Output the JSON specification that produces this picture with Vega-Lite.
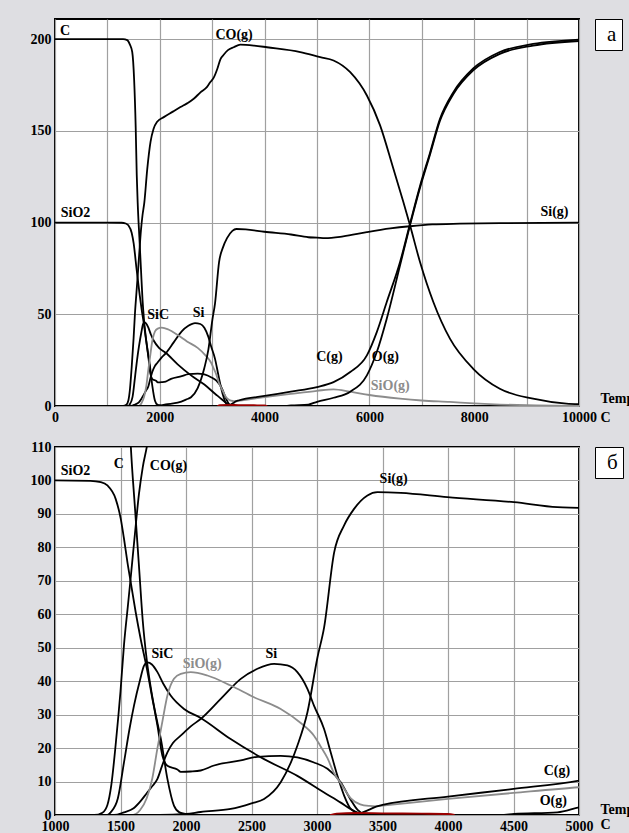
{
"$schema": "https://vega.github.io/schema/vega-lite/v6.json",
"background": "#dedee2",
"padding": {"left": 29, "top": 17, "right": 0, "bottom": 0},
"spacing": 14,
"config": {
 "view": {"fill": "white", "stroke": "black", "strokeWidth": 2},
 "axis": {"labelFont": "Liberation Serif", "labelFontSize": 14, "labelFontWeight": "bold", "labelColor": "black", "ticks": false, "labelPadding": 4, "domain": false, "gridColor": "#a0a0a0", "gridWidth": 1.2, "gridOpacity": 1, "labelFlush": false, "labelOverlap": false, "titleFont": "Liberation Serif", "titleFontSize": 14, "titleFontWeight": "bold", "titleColor": "black"},
 "legend": {"columnPadding": 0, "rowPadding": 0},
 "text": {"font": "Liberation Serif", "fontWeight": "bold", "fontSize": 14, "align": "left", "baseline": "middle"}
},
"resolve": {"scale": {"x": "independent", "y": "independent", "shape": "independent"}, "legend": {"shape": "independent"}},
"datasets": {
 "labels": [
  {"p":"a","s":"C","T":95,"v":204.7},
  {"p":"a","s":"CO(g)","T":3061,"v":202.5},
  {"p":"a","s":"SiO2","T":109,"v":105.4},
  {"p":"a","s":"SiC","T":1760,"v":49.6},
  {"p":"a","s":"Si","T":2629,"v":50.7},
  {"p":"a","s":"Si(g)","T":9265,"v":105.7},
  {"p":"a","s":"C(g)","T":4985,"v":26.7},
  {"p":"a","s":"O(g)","T":6046,"v":26.7},
  {"p":"a","s":"SiO(g)","T":6027,"v":10.9},
  {"p":"b","s":"SiO2","T":1044,"v":102.9},
  {"p":"b","s":"C","T":1448,"v":104.9},
  {"p":"b","s":"CO(g)","T":1724,"v":104.4},
  {"p":"b","s":"SiC","T":1737,"v":48.1},
  {"p":"b","s":"SiO(g)","T":1975,"v":45.2},
  {"p":"b","s":"Si","T":2607,"v":48.1},
  {"p":"b","s":"Si(g)","T":3478,"v":100.4},
  {"p":"b","s":"C(g)","T":4730,"v":13.2},
  {"p":"b","s":"O(g)","T":4700,"v":4.2}
 ],
 "curves": [
  {"s":"C","T":0,"v":200},{"s":"C","T":1000,"v":200},{"s":"C","T":1300,"v":200},{"s":"C","T":1378,"v":199.5},{"s":"C","T":1430,"v":197},{"s":"C","T":1474,"v":193},{"s":"C","T":1510,"v":178},{"s":"C","T":1540,"v":152},{"s":"C","T":1560,"v":126},{"s":"C","T":1579,"v":110},{"s":"C","T":1610,"v":92},{"s":"C","T":1640,"v":75},{"s":"C","T":1670,"v":58},{"s":"C","T":1700,"v":46.5},{"s":"C","T":1740,"v":36},{"s":"C","T":1782,"v":27.5},{"s":"C","T":1807,"v":23},{"s":"C","T":1858,"v":10.8},{"s":"C","T":1908,"v":2.8},{"s":"C","T":1950,"v":0.8},{"s":"C","T":2000,"v":0.3},{"s":"C","T":2100,"v":0},{"s":"C","T":10000,"v":0},
  {"s":"CO(g)","T":0,"v":0},{"s":"CO(g)","T":1300,"v":0},{"s":"CO(g)","T":1362,"v":0.7},{"s":"CO(g)","T":1400,"v":3},{"s":"CO(g)","T":1430,"v":9},{"s":"CO(g)","T":1463,"v":21},{"s":"CO(g)","T":1500,"v":37},{"s":"CO(g)","T":1527,"v":51},{"s":"CO(g)","T":1555,"v":62},{"s":"CO(g)","T":1578,"v":71},{"s":"CO(g)","T":1610,"v":84},{"s":"CO(g)","T":1641,"v":96},{"s":"CO(g)","T":1670,"v":104},{"s":"CO(g)","T":1705,"v":111},{"s":"CO(g)","T":1760,"v":129},{"s":"CO(g)","T":1823,"v":144},{"s":"CO(g)","T":1880,"v":151},{"s":"CO(g)","T":1950,"v":155},{"s":"CO(g)","T":2076,"v":157.5},{"s":"CO(g)","T":2250,"v":160.5},{"s":"CO(g)","T":2394,"v":163},{"s":"CO(g)","T":2520,"v":165},{"s":"CO(g)","T":2648,"v":167.5},{"s":"CO(g)","T":2775,"v":171},{"s":"CO(g)","T":2902,"v":174},{"s":"CO(g)","T":2965,"v":176.6},{"s":"CO(g)","T":3029,"v":179},{"s":"CO(g)","T":3100,"v":184},{"s":"CO(g)","T":3156,"v":189},{"s":"CO(g)","T":3219,"v":191.5},{"s":"CO(g)","T":3300,"v":194},{"s":"CO(g)","T":3410,"v":195.6},{"s":"CO(g)","T":3537,"v":197},{"s":"CO(g)","T":3800,"v":196.5},{"s":"CO(g)","T":4046,"v":195.6},{"s":"CO(g)","T":4680,"v":193},{"s":"CO(g)","T":5061,"v":190.2},{"s":"CO(g)","T":5316,"v":188.4},{"s":"CO(g)","T":5634,"v":182},{"s":"CO(g)","T":5952,"v":169.3},{"s":"CO(g)","T":6204,"v":153},{"s":"CO(g)","T":6458,"v":129.3},{"s":"CO(g)","T":6648,"v":111.2},{"s":"CO(g)","T":6775,"v":98.5},{"s":"CO(g)","T":6966,"v":78.5},{"s":"CO(g)","T":7220,"v":56.7},{"s":"CO(g)","T":7537,"v":36.7},{"s":"CO(g)","T":7981,"v":20.3},{"s":"CO(g)","T":8489,"v":9.4},{"s":"CO(g)","T":9124,"v":4},{"s":"CO(g)","T":9759,"v":1.3},{"s":"CO(g)","T":10000,"v":1},
  {"s":"SiO2","T":0,"v":100},{"s":"SiO2","T":1000,"v":100},{"s":"SiO2","T":1270,"v":99.9},{"s":"SiO2","T":1350,"v":99.5},{"s":"SiO2","T":1400,"v":98.5},{"s":"SiO2","T":1463,"v":94.5},{"s":"SiO2","T":1502,"v":88.5},{"s":"SiO2","T":1527,"v":82.5},{"s":"SiO2","T":1553,"v":75.5},{"s":"SiO2","T":1578,"v":69.6},{"s":"SiO2","T":1616,"v":60.6},{"s":"SiO2","T":1654,"v":52.6},{"s":"SiO2","T":1700,"v":44},{"s":"SiO2","T":1740,"v":35.5},{"s":"SiO2","T":1782,"v":26.7},{"s":"SiO2","T":1820,"v":17.7},{"s":"SiO2","T":1858,"v":14.7},{"s":"SiO2","T":1934,"v":13.6},{"s":"SiO2","T":1960,"v":12.9},{"s":"SiO2","T":2036,"v":13},{"s":"SiO2","T":2112,"v":13.3},{"s":"SiO2","T":2214,"v":14.8},{"s":"SiO2","T":2418,"v":16.3},{"s":"SiO2","T":2545,"v":17.4},{"s":"SiO2","T":2723,"v":17.7},{"s":"SiO2","T":2850,"v":17.2},{"s":"SiO2","T":2977,"v":15.7},{"s":"SiO2","T":3080,"v":13.8},{"s":"SiO2","T":3181,"v":9.8},{"s":"SiO2","T":3258,"v":4.5},{"s":"SiO2","T":3310,"v":1.5},{"s":"SiO2","T":3360,"v":0.3},{"s":"SiO2","T":3450,"v":0},{"s":"SiO2","T":10000,"v":0},
  {"s":"SiC","T":0,"v":0},{"s":"SiC","T":1400,"v":0},{"s":"SiC","T":1425,"v":0.8},{"s":"SiC","T":1480,"v":5},{"s":"SiC","T":1527,"v":15.8},{"s":"SiC","T":1570,"v":26},{"s":"SiC","T":1603,"v":32.7},{"s":"SiC","T":1650,"v":40.5},{"s":"SiC","T":1679,"v":44.6},{"s":"SiC","T":1705,"v":45.6},{"s":"SiC","T":1740,"v":45},{"s":"SiC","T":1782,"v":42.7},{"s":"SiC","T":1830,"v":39},{"s":"SiC","T":1883,"v":35.7},{"s":"SiC","T":1985,"v":31.7},{"s":"SiC","T":2112,"v":29},{"s":"SiC","T":2341,"v":22.7},{"s":"SiC","T":2596,"v":16.7},{"s":"SiC","T":2850,"v":11.7},{"s":"SiC","T":3054,"v":6.7},{"s":"SiC","T":3181,"v":3.7},{"s":"SiC","T":3258,"v":1.7},{"s":"SiC","T":3330,"v":0.4},{"s":"SiC","T":3400,"v":0},{"s":"SiC","T":10000,"v":0},
  {"s":"Si","T":0,"v":0},{"s":"Si","T":1450,"v":0},{"s":"Si","T":1527,"v":0.8},{"s":"Si","T":1600,"v":2},{"s":"Si","T":1650,"v":4},{"s":"Si","T":1700,"v":6.5},{"s":"Si","T":1740,"v":8.5},{"s":"Si","T":1782,"v":10.8},{"s":"Si","T":1820,"v":15},{"s":"Si","T":1858,"v":18.7},{"s":"Si","T":1900,"v":21.5},{"s":"Si","T":1959,"v":23.7},{"s":"Si","T":2036,"v":26.5},{"s":"Si","T":2112,"v":28.7},{"s":"Si","T":2265,"v":34.7},{"s":"Si","T":2418,"v":40.7},{"s":"Si","T":2545,"v":43.7},{"s":"Si","T":2672,"v":45.2},{"s":"Si","T":2774,"v":44.7},{"s":"Si","T":2850,"v":42.7},{"s":"Si","T":2927,"v":37.7},{"s":"Si","T":2977,"v":32.7},{"s":"Si","T":3054,"v":25.7},{"s":"Si","T":3105,"v":18.7},{"s":"Si","T":3156,"v":11.7},{"s":"Si","T":3207,"v":5.8},{"s":"Si","T":3258,"v":1.8},{"s":"Si","T":3330,"v":0.3},{"s":"Si","T":3400,"v":0},{"s":"Si","T":10000,"v":0},
  {"s":"SiO(g)","T":0,"v":0},{"s":"SiO(g)","T":1580,"v":0},{"s":"SiO(g)","T":1616,"v":0.3},{"s":"SiO(g)","T":1650,"v":1.5},{"s":"SiO(g)","T":1700,"v":5},{"s":"SiO(g)","T":1743,"v":11},{"s":"SiO(g)","T":1782,"v":20},{"s":"SiO(g)","T":1820,"v":28},{"s":"SiO(g)","T":1858,"v":35.7},{"s":"SiO(g)","T":1908,"v":40.7},{"s":"SiO(g)","T":1960,"v":42.2},{"s":"SiO(g)","T":2036,"v":42.7},{"s":"SiO(g)","T":2163,"v":41.7},{"s":"SiO(g)","T":2341,"v":38.7},{"s":"SiO(g)","T":2519,"v":35.2},{"s":"SiO(g)","T":2723,"v":31.7},{"s":"SiO(g)","T":2876,"v":27.5},{"s":"SiO(g)","T":2977,"v":23.7},{"s":"SiO(g)","T":3028,"v":20.5},{"s":"SiO(g)","T":3080,"v":17},{"s":"SiO(g)","T":3130,"v":12.5},{"s":"SiO(g)","T":3181,"v":9.5},{"s":"SiO(g)","T":3258,"v":5},{"s":"SiO(g)","T":3330,"v":3.2},{"s":"SiO(g)","T":3400,"v":2.7},{"s":"SiO(g)","T":3450,"v":2.6},{"s":"SiO(g)","T":3500,"v":2.8},{"s":"SiO(g)","T":4000,"v":4.8},{"s":"SiO(g)","T":4500,"v":6.6},{"s":"SiO(g)","T":5000,"v":8.3},{"s":"SiO(g)","T":5316,"v":9.1},{"s":"SiO(g)","T":5634,"v":7.8},{"s":"SiO(g)","T":6000,"v":6},{"s":"SiO(g)","T":6585,"v":4},{"s":"SiO(g)","T":7000,"v":3},{"s":"SiO(g)","T":7537,"v":2.2},{"s":"SiO(g)","T":8000,"v":1.4},{"s":"SiO(g)","T":8489,"v":0.8},{"s":"SiO(g)","T":9000,"v":0.4},{"s":"SiO(g)","T":10000,"v":0.1},
  {"s":"Si(g)","T":0,"v":0},{"s":"Si(g)","T":1800,"v":0},{"s":"Si(g)","T":2000,"v":0.3},{"s":"Si(g)","T":2112,"v":0.9},{"s":"Si(g)","T":2342,"v":1.8},{"s":"Si(g)","T":2500,"v":3.5},{"s":"Si(g)","T":2596,"v":4.8},{"s":"Si(g)","T":2723,"v":9.8},{"s":"Si(g)","T":2850,"v":20.7},{"s":"Si(g)","T":2927,"v":30.7},{"s":"Si(g)","T":3003,"v":47},{"s":"Si(g)","T":3054,"v":56},{"s":"Si(g)","T":3131,"v":78.5},{"s":"Si(g)","T":3206,"v":86.5},{"s":"Si(g)","T":3283,"v":91.5},{"s":"Si(g)","T":3385,"v":95.5},{"s":"Si(g)","T":3461,"v":96.5},{"s":"Si(g)","T":3639,"v":96.3},{"s":"Si(g)","T":3995,"v":95},{"s":"Si(g)","T":4504,"v":93.5},{"s":"Si(g)","T":4835,"v":92},{"s":"Si(g)","T":5000,"v":91.8},{"s":"Si(g)","T":5156,"v":91.5},{"s":"Si(g)","T":5500,"v":92.5},{"s":"Si(g)","T":5950,"v":94.8},{"s":"Si(g)","T":6400,"v":96.8},{"s":"Si(g)","T":6775,"v":98},{"s":"Si(g)","T":7200,"v":99},{"s":"Si(g)","T":7728,"v":99.4},{"s":"Si(g)","T":8500,"v":99.7},{"s":"Si(g)","T":10000,"v":100},
  {"s":"C(g)","T":0,"v":0},{"s":"C(g)","T":3250,"v":0},{"s":"C(g)","T":3330,"v":0.5},{"s":"C(g)","T":3400,"v":1.6},{"s":"C(g)","T":3450,"v":2.5},{"s":"C(g)","T":3500,"v":3},{"s":"C(g)","T":4000,"v":5.5},{"s":"C(g)","T":4500,"v":7.8},{"s":"C(g)","T":5000,"v":10.3},{"s":"C(g)","T":5316,"v":13},{"s":"C(g)","T":5634,"v":18.5},{"s":"C(g)","T":5952,"v":27.6},{"s":"C(g)","T":6141,"v":40.3},{"s":"C(g)","T":6331,"v":56.7},{"s":"C(g)","T":6585,"v":78.5},{"s":"C(g)","T":6775,"v":99.4},{"s":"C(g)","T":6966,"v":120},{"s":"C(g)","T":7156,"v":138},{"s":"C(g)","T":7347,"v":156.6},{"s":"C(g)","T":7600,"v":171},{"s":"C(g)","T":7981,"v":184},{"s":"C(g)","T":8489,"v":193},{"s":"C(g)","T":9124,"v":197.4},{"s":"C(g)","T":10000,"v":199.8},
  {"s":"O(g)","T":0,"v":0},{"s":"O(g)","T":4400,"v":0},{"s":"O(g)","T":4504,"v":0.3},{"s":"O(g)","T":4835,"v":0.8},{"s":"O(g)","T":5000,"v":2.3},{"s":"O(g)","T":5316,"v":4.5},{"s":"O(g)","T":5634,"v":7.8},{"s":"O(g)","T":5952,"v":16.7},{"s":"O(g)","T":6141,"v":29.4},{"s":"O(g)","T":6331,"v":47.6},{"s":"O(g)","T":6585,"v":76.7},{"s":"O(g)","T":6775,"v":98.5},{"s":"O(g)","T":6966,"v":119},{"s":"O(g)","T":7156,"v":137},{"s":"O(g)","T":7347,"v":155.5},{"s":"O(g)","T":7600,"v":170},{"s":"O(g)","T":7981,"v":183},{"s":"O(g)","T":8489,"v":192},{"s":"O(g)","T":9124,"v":196.5},{"s":"O(g)","T":10000,"v":199},
  {"s":"minor","T":3100,"v":0},{"s":"minor","T":3150,"v":0.4},{"s":"minor","T":3300,"v":0.6},{"s":"minor","T":3500,"v":0.5},{"s":"minor","T":3800,"v":0.4},{"s":"minor","T":4000,"v":0.3},{"s":"minor","T":4050,"v":0}
 ]
},
"vconcat": [
 {
  "width": 524, "height": 387,
  "encoding": {
   "x": {"field": "T", "type": "quantitative", "scale": {"domain": [0, 10000], "nice": false},
     "axis": {"values": [0,1000,2000,3000,4000,5000,6000,7000,8000,9000,10000], "format": "d", "labelExpr": "datum.value % 2000 === 0 ? datum.label : ''",
      "title": ["Temp", "\u00a0\u00a0C"], "titleX": 545, "titleY": -4, "titleAlign": "left", "titleBaseline": "alphabetic", "titleAngle": 0, "titleLineHeight": 19, "titleAnchor": null}},
   "y": {"field": "v", "type": "quantitative", "scale": {"domain": [0, 211], "nice": false}, "axis": {"values": [0,50,100,150,200], "title": null}}
  },
  "layer": [
   {
    "data": {"name": "curves"},
    "mark": {"type": "line", "strokeWidth": 1.8, "interpolate": "monotone", "clip": true},
    "encoding": {
     "color": {"field": "s", "type": "nominal", "legend": null,
       "scale": {"domain": ["C","CO(g)","SiO2","SiC","Si","SiO(g)","Si(g)","C(g)","O(g)","minor"], "range": ["#000000","#000000","#000000","#000000","#000000","#8c8c8c","#000000","#000000","#000000","#990000"]}}
    }
   },
   {
    "data": {"name": "labels"},
    "transform": [{"filter": "datum.p === 'a'"}],
    "mark": {"type": "text"},
    "encoding": {
     "text": {"field": "s"},
     "color": {"field": "s", "type": "nominal", "legend": null}
    }
   },
   {
    "data": {"values": [{"panel": "a", "T": 5000, "v": 100}]},
    "mark": {"type": "point", "opacity": 0},
    "encoding": {
     "shape": {"field": "panel", "type": "nominal",
      "legend": {"orient": "right", "offset": 16, "title": null, "padding": 5, "fillColor": "white", "strokeColor": "black", "labelFont": "Liberation Serif", "labelFontSize": 21, "labelFontWeight": "normal", "labelColor": "black", "symbolSize": 16, "symbolOpacity": 0, "symbolStrokeWidth": 0, "labelOffset": -14}}
    }
   }
  ]
 },
 {
  "width": 524, "height": 368,
  "encoding": {
   "x": {"field": "T", "type": "quantitative", "scale": {"domain": [1000, 5000], "nice": false},
     "axis": {"values": [1000,1500,2000,2500,3000,3500,4000,4500,5000], "format": "d",
      "title": ["Temp", "\u00a0\u00a0C"], "titleX": 545, "titleY": -2, "titleAlign": "left", "titleBaseline": "alphabetic", "titleAngle": 0, "titleLineHeight": 15, "titleAnchor": null}},
   "y": {"field": "v", "type": "quantitative", "scale": {"domain": [0, 110], "nice": false}, "axis": {"values": [0,10,20,30,40,50,60,70,80,90,100,110], "title": null}}
  },
  "layer": [
   {
    "data": {"name": "curves"},
    "mark": {"type": "line", "strokeWidth": 1.8, "interpolate": "monotone", "clip": true},
    "encoding": {
     "color": {"field": "s", "type": "nominal", "legend": null,
       "scale": {"domain": ["C","CO(g)","SiO2","SiC","Si","SiO(g)","Si(g)","C(g)","O(g)","minor"], "range": ["#000000","#000000","#000000","#000000","#000000","#8c8c8c","#000000","#000000","#000000","#990000"]}}
    }
   },
   {
    "data": {"name": "labels"},
    "transform": [{"filter": "datum.p === 'b'"}],
    "mark": {"type": "text"},
    "encoding": {
     "text": {"field": "s"},
     "color": {"field": "s", "type": "nominal", "legend": null}
    }
   },
   {
    "data": {"values": [{"panel": "б", "T": 3000, "v": 50}]},
    "mark": {"type": "point", "opacity": 0},
    "encoding": {
     "shape": {"field": "panel", "type": "nominal",
      "legend": {"orient": "right", "offset": 16, "title": null, "padding": 5, "fillColor": "white", "strokeColor": "black", "labelFont": "Liberation Serif", "labelFontSize": 21, "labelFontWeight": "normal", "labelColor": "black", "symbolSize": 16, "symbolOpacity": 0, "symbolStrokeWidth": 0, "labelOffset": -14}}
    }
   }
  ]
 }
]
}
